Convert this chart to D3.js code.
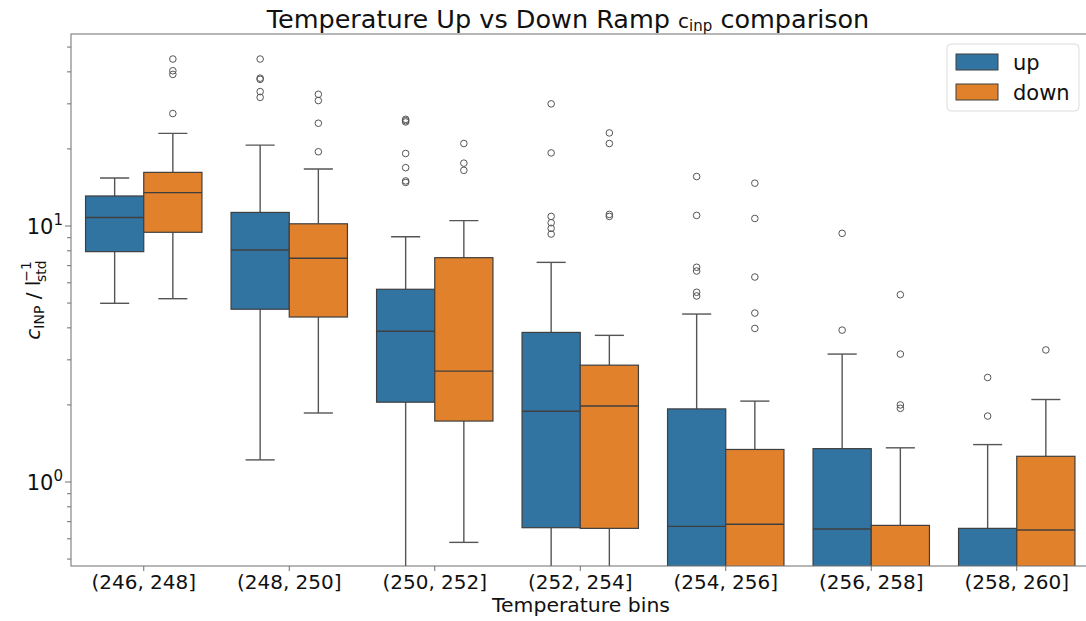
<!DOCTYPE html>
<html>
<head>
<meta charset="utf-8">
<script src="https://cdn.jsdelivr.net/npm/d3@7"></script>
<style>
  body { margin: 0; background: #fff; overflow: hidden; }
  text { font-family: "DejaVu Sans", sans-serif; }
</style>
</head>
<body>
<div id="chart"></div>
<script>
// bins and hue levels
var bins = ["(246, 248]", "(248, 250]", "(250, 252]", "(252, 254]", "(254, 256]", "(256, 258]", "(258, 260]"];
var ramps = ["up", "down"];

// five number summaries per bin: [whisker low, q1, median, q3, whisker high]
var upStats = [
  [4.99, 7.94, 10.8, 13.1, 15.4],
  [1.22, 4.73, 8.06, 11.3, 20.7],
  [0.30, 2.05, 3.88, 5.66, 9.08],
  [0.25, 0.663, 1.89, 3.84, 7.21],
  [0.20, 0.40, 0.671, 1.93, 4.53],
  [0.20, 0.38, 0.655, 1.35, 3.16],
  [0.20, 0.30, 0.42, 0.659, 1.40]
];
var downStats = [
  [5.2, 9.45, 13.5, 16.2, 23.0],
  [1.86, 4.41, 7.48, 10.2, 16.7],
  [0.581, 1.73, 2.71, 7.52, 10.5],
  [0.25, 0.659, 1.98, 2.86, 3.74],
  [0.20, 0.40, 0.684, 1.34, 2.07],
  [0.20, 0.30, 0.40, 0.677, 1.36],
  [0.20, 0.38, 0.649, 1.26, 2.10]
];
var upOutliers = [
  [],
  [44.9, 37.8, 37.4, 33.5, 31.8],
  [26.1, 25.8, 25.5, 19.2, 16.9, 15.0, 14.8],
  [30.0, 19.3, 10.9, 10.3, 9.79, 9.3],
  [15.6, 11.0, 6.9, 6.67, 5.51, 5.33],
  [9.36, 3.92],
  [2.56, 1.81]
];
var downOutliers = [
  [44.9, 40.4, 39.1, 27.5],
  [32.7, 30.9, 25.2, 19.5],
  [21.0, 17.6, 16.5],
  [23.1, 21.0, 11.1, 10.9],
  [14.7, 10.7, 6.32, 4.57, 3.98],
  [5.39, 3.16, 2.0, 1.94],
  [3.28]
];
var yMajor = [1, 10];
var yMinor = [0.5, 0.6, 0.7, 0.8, 0.9, 2, 3, 4, 5, 6, 7, 8, 9, 20, 30, 40, 50];

var svgWidth = 1086;
var svgHeight = 621;
var margin = { top: 34, right: -3.5, bottom: 55, left: 71 };
var chartWidth = svgWidth - margin.left - margin.right;
var chartHeight = svgHeight - margin.top - margin.bottom;

var colors = { up: "#3274a1", down: "#e1812c" };
var edge = "#3f3f3f";
var lineGray = "#555";

var svg = d3.select("#chart").append("svg")
  .attr("width", svgWidth)
  .attr("height", svgHeight);

var chartGroup = svg.append("g")
  .attr("transform", `translate(${margin.left}, ${margin.top})`);

svg.append("defs").append("clipPath").attr("id", "clip")
  .append("rect").attr("width", chartWidth).attr("height", chartHeight);

var xScale = d3.scaleBand().domain(bins).range([0, chartWidth]);
var xInner = d3.scaleBand().domain(ramps).range([0, xScale.bandwidth() * 0.8]);
var yScale = d3.scaleLog()
  .domain([Math.pow(10, -84 / 256), Math.pow(10, 448 / 256)])
  .range([chartHeight, 0]);

var plot = chartGroup.append("g").attr("clip-path", "url(#clip)");

var series = [
  { key: "up", stats: upStats, out: upOutliers },
  { key: "down", stats: downStats, out: downOutliers }
];

series.forEach(function(s) {
  var g = plot.append("g");
  var w = xInner.bandwidth();
  var left = function(i) { return xScale(bins[i]) + xScale.bandwidth() * 0.1 + xInner(s.key); };
  var mid = function(i) { return left(i) + w / 2; };

  // whiskers
  g.selectAll(".wl").data(s.stats).enter().append("line")
    .attr("x1", (d, i) => mid(i)).attr("x2", (d, i) => mid(i))
    .attr("y1", d => yScale(d[0])).attr("y2", d => yScale(d[1]))
    .attr("stroke", lineGray).attr("stroke-width", 1.4);
  g.selectAll(".wh").data(s.stats).enter().append("line")
    .attr("x1", (d, i) => mid(i)).attr("x2", (d, i) => mid(i))
    .attr("y1", d => yScale(d[3])).attr("y2", d => yScale(d[4]))
    .attr("stroke", lineGray).attr("stroke-width", 1.4);
  // caps
  [0, 4].forEach(function(k) {
    g.selectAll(".cap" + k).data(s.stats).enter().append("line")
      .attr("x1", (d, i) => mid(i) - w / 4).attr("x2", (d, i) => mid(i) + w / 4)
      .attr("y1", d => yScale(d[k])).attr("y2", d => yScale(d[k]))
      .attr("stroke", lineGray).attr("stroke-width", 1.4);
  });
  // boxes
  g.selectAll(".box").data(s.stats).enter().append("rect")
    .attr("x", (d, i) => left(i))
    .attr("width", w)
    .attr("y", d => yScale(d[3]))
    .attr("height", d => yScale(d[1]) - yScale(d[3]))
    .attr("fill", colors[s.key])
    .attr("stroke", edge).attr("stroke-width", 1.2);
  // medians
  g.selectAll(".med").data(s.stats).enter().append("line")
    .attr("x1", (d, i) => left(i)).attr("x2", (d, i) => left(i) + w)
    .attr("y1", d => yScale(d[2])).attr("y2", d => yScale(d[2]))
    .attr("stroke", edge).attr("stroke-width", 1.4);
  // fliers
  s.out.forEach(function(vals, i) {
    g.selectAll(null).data(vals).enter().append("circle")
      .attr("cx", mid(i))
      .attr("cy", d => yScale(d))
      .attr("r", 3.3)
      .attr("fill", "none")
      .attr("stroke", lineGray).attr("stroke-width", 1);
  });
});

// spines
chartGroup.append("rect")
  .attr("width", chartWidth).attr("height", chartHeight)
  .attr("fill", "none").attr("stroke", "#6e6e6e").attr("stroke-width", 1);

// x axis ticks
var xAxis = d3.axisBottom(xScale).tickSize(5).tickPadding(4);
var xg = chartGroup.append("g")
  .attr("transform", `translate(0, ${chartHeight})`)
  .call(xAxis);
xg.select(".domain").remove();
xg.selectAll("line").attr("stroke", "#6e6e6e");
xg.selectAll("text").attr("font-size", 20).attr("fill", "#111")
  .attr("font-family", "DejaVu Sans");

// y axis ticks
chartGroup.selectAll(".minor").data(yMinor).enter().append("line")
  .attr("x1", -4).attr("x2", 0)
  .attr("y1", d => yScale(d)).attr("y2", d => yScale(d))
  .attr("stroke", "#6e6e6e");
chartGroup.selectAll(".major").data(yMajor).enter().append("line")
  .attr("x1", -6).attr("x2", 0)
  .attr("y1", d => yScale(d)).attr("y2", d => yScale(d))
  .attr("stroke", "#6e6e6e");
var yl = chartGroup.selectAll(".ylab").data(yMajor).enter().append("text")
  .attr("x", -8).attr("y", d => yScale(d) + 8)
  .attr("text-anchor", "end").attr("font-size", 21).attr("fill", "#111");
yl.append("tspan").text("10");
yl.append("tspan").attr("dy", -9).attr("font-size", 15).text(d => Math.round(Math.log10(d)));

// title
var title = svg.append("text")
  .attr("x", 568).attr("y", 28)
  .attr("text-anchor", "middle").attr("font-size", 25.5).attr("fill", "#111");
title.append("tspan").text("Temperature Up vs Down Ramp ");
title.append("tspan").attr("font-size", 20).text("c");
title.append("tspan").attr("font-size", 15).attr("dy", 3).text("inp");
title.append("tspan").attr("dy", -3).text(" comparison");

// axis labels
svg.append("text")
  .attr("x", 581).attr("y", 612)
  .attr("text-anchor", "middle").attr("font-size", 20).attr("fill", "#111")
  .attr("textLength", 178).attr("lengthAdjust", "spacingAndGlyphs")
  .text("Temperature bins");

var ylab = svg.append("text")
  .attr("transform", "translate(40, 300) rotate(-90)")
  .attr("text-anchor", "middle").attr("font-size", 20).attr("fill", "#111");
ylab.append("tspan").attr("font-style", "italic").text("c");
ylab.append("tspan").attr("font-size", 14).attr("dy", 4).text("INP");
ylab.append("tspan").attr("dy", -4).text(" / l");
ylab.append("tspan").attr("font-size", 14).attr("dy", -9).attr("dx", -1).text("\u22121");
ylab.append("tspan").attr("font-size", 14).attr("dy", 15).attr("dx", -21).text("std");

// legend
var legend = svg.append("g").attr("transform", "translate(947, 44)");
legend.append("rect")
  .attr("width", 132).attr("height", 67).attr("rx", 4)
  .attr("fill", "#fff").attr("fill-opacity", 0.8)
  .attr("stroke", "#dcdcdc");
ramps.forEach(function(r, i) {
  legend.append("rect")
    .attr("x", 9).attr("y", 10 + i * 30)
    .attr("width", 42).attr("height", 16)
    .attr("fill", colors[r]).attr("stroke", edge).attr("stroke-width", 1);
  legend.append("text")
    .attr("x", 66).attr("y", 26 + i * 30)
    .attr("font-size", 21).attr("fill", "#111")
    .text(r);
});
</script>
</body>
</html>
